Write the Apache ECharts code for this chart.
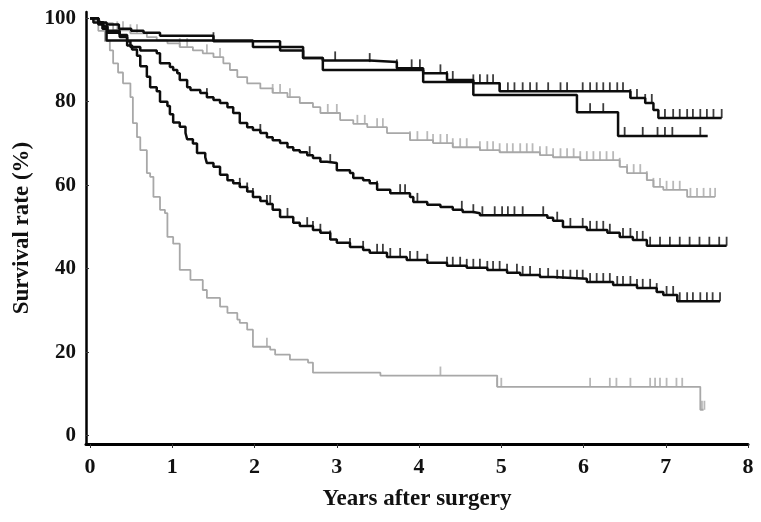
<!DOCTYPE html>
<html><head><meta charset="utf-8">
<script src="https://cdn.jsdelivr.net/npm/echarts@6/dist/echarts.min.js"></script>
<style>html,body{margin:0;padding:0;background:#fff}#c{width:761px;height:522px}</style>
</head><body><div id="c"></div>
<script>
// ---- tick labels ----
const xTickLabels = [0, 1, 2, 3, 4, 5, 6, 7, 8];
const yTickLabels = [0, 20, 40, 60, 80, 100];
const xTitle = 'Years after surgery';
const yTitle = 'Survival rate (%)';

// ---- Kaplan-Meier curves: [years, survival %] (step after each point) ----
const curveA = [[0,100],[0.1,99],[0.2,98.5],[0.35,97.5],[0.5,97],[0.65,96.5],[0.85,95.8],[1.5,94.5],[2.31,92.3],[2.59,90.5],[2.83,89.9],[3.4,89.5],[3.73,88],[4.05,86.8],[4.34,85.2],[4.66,84.4],[4.98,82.5],[6.57,80.9],[6.75,79.7],[6.85,78],[6.91,76.1],[7.68,76.1]];
const curveB = [[0,100],[0.04,99],[0.1,98.5],[0.15,97.5],[0.2,94.7],[1.98,93.1],[2.59,90.5],[2.83,87.6],[4.05,84.7],[4.66,81.6],[5.92,77.5],[6.42,71.8],[7.51,71.8]];
const curveC = [[0,100],[0.04,99.5],[0.12,98.8],[0.28,97.1],[0.49,96.4],[0.69,95.5],[0.81,94.7],[0.94,94],[1.09,93.1],[1.25,92.3],[1.37,91.6],[1.5,90.7],[1.62,89.2],[1.7,87.6],[1.79,85.9],[1.91,84.4],[2.07,83.2],[2.22,82.1],[2.4,81.1],[2.55,79.7],[2.71,78.7],[2.8,77.3],[3.04,75.6],[3.2,74.7],[3.37,73.9],[3.61,72.5],[3.89,70.8],[4.17,70.1],[4.41,69.1],[4.74,68.4],[4.98,67.9],[5.47,67.2],[5.63,66.7],[5.96,66],[6.44,64.4],[6.53,62.9],[6.77,61.2],[6.85,59.6],[6.97,58.9],[7.26,57.2],[7.6,57.2]];
const curveD = [[0,100],[0.1,99],[0.16,98],[0.21,97],[0.36,96],[0.45,94.5],[0.49,93.1],[0.61,92.3],[0.81,91.6],[0.85,89.2],[0.97,88.3],[1.01,87.6],[1.06,86.8],[1.09,85.2],[1.18,83.5],[1.22,82.8],[1.34,82.1],[1.42,81.1],[1.5,80.4],[1.58,79.7],[1.67,78.7],[1.74,77.3],[1.82,74.9],[1.91,73.9],[1.98,73.2],[2.07,72.5],[2.15,71.5],[2.22,70.8],[2.31,70.1],[2.4,69.1],[2.47,68.4],[2.55,67.9],[2.64,67.2],[2.71,66.5],[2.8,65.6],[2.88,65.3],[3,63.6],[3.16,62.9],[3.2,61.7],[3.32,61.2],[3.4,60.5],[3.49,58.9],[3.65,58.1],[3.89,57.2],[3.93,56],[4.1,55.3],[4.26,54.8],[4.41,54.1],[4.53,53.6],[4.66,53.3],[4.74,52.8],[5.56,52.2],[5.63,51.5],[5.75,50],[6.04,49.3],[6.29,48.6],[6.44,47.6],[6.6,46.9],[6.77,45.5],[7.74,45.5]];
const curveE = [[0,100],[0.1,99],[0.16,98],[0.21,96.5],[0.36,95.5],[0.45,93.5],[0.51,92.5],[0.57,91],[0.61,88.5],[0.69,86],[0.73,83.5],[0.81,82.5],[0.85,80],[0.94,79],[0.97,77],[1.01,75],[1.09,74],[1.16,72.5],[1.18,71],[1.25,70],[1.3,67.7],[1.4,66.7],[1.42,65.3],[1.5,64.4],[1.58,62.5],[1.67,61.2],[1.74,60.5],[1.82,59.6],[1.91,58.5],[1.98,57.2],[2.07,56.2],[2.15,55.5],[2.22,54.1],[2.31,52.4],[2.47,51],[2.55,50.2],[2.71,49.3],[2.8,48.6],[2.92,47],[3,46.2],[3.16,45.2],[3.32,44.5],[3.4,43.8],[3.61,42.8],[3.85,42.1],[4.1,41.4],[4.34,40.7],[4.58,40.2],[4.83,39.7],[5.07,39],[5.23,38.5],[5.47,38],[5.63,37.6],[6.04,36.8],[6.36,36.1],[6.65,35.4],[6.89,34.4],[6.97,33.7],[7.14,32.2],[7.66,32.2]];
const curveF = [[0,100],[0.04,99.5],[0.1,97],[0.18,94.5],[0.24,92.3],[0.28,89.2],[0.34,87],[0.4,84.4],[0.49,81.1],[0.52,74.9],[0.57,71.5],[0.61,68.4],[0.69,62.9],[0.73,62],[0.77,57.2],[0.85,54.1],[0.91,53.3],[0.94,47.6],[1.01,46],[1.09,39.7],[1.22,37.3],[1.37,34.9],[1.42,33],[1.58,30.9],[1.67,29.4],[1.79,27.8],[1.82,27],[1.91,25.4],[1.98,21.3],[2.19,20.6],[2.25,19.4],[2.43,18.2],[2.65,17.5],[2.71,15.1],[3.53,14.4],[4.95,11.7],[7.42,6.2],[7.46,6.2]];

// ---- censored times (tick marks) ----
const censA = [1.5,2.98,3.4,3.73,3.91,4.01,4.26,4.34,4.41,4.66,4.74,4.83,4.9,4.98,5.08,5.16,5.26,5.35,5.43,5.57,5.72,5.8,5.99,6.08,6.16,6.24,6.32,6.41,6.48,6.57,6.65,6.75,6.83,6.99,7.09,7.17,7.26,7.33,7.42,7.5,7.58,7.68];
const censB = [6.08,6.24,6.5,6.72,6.9,6.99,7.08,7.42];
const censC = [0.33,0.4,0.49,0.57,1.09,1.18,1.42,1.58,2.22,2.31,2.43,2.89,3.0,3.25,3.34,3.49,3.56,3.89,3.98,4.1,4.17,4.26,4.34,4.41,4.5,4.58,4.74,4.83,4.9,4.98,5.07,5.14,5.23,5.31,5.38,5.47,5.55,5.63,5.72,5.8,5.88,5.96,6.04,6.12,6.2,6.28,6.36,6.44,6.53,6.61,6.69,6.77,6.85,6.93,7.01,7.09,7.17,7.3,7.38,7.46,7.54,7.6];
const censD = [1.42,2.07,2.67,2.92,3.49,3.77,3.83,3.98,4.52,4.66,4.77,4.92,5.01,5.08,5.16,5.26,5.51,5.68,5.84,5.99,6.08,6.16,6.24,6.32,6.48,6.57,6.65,6.72,6.81,6.93,7.05,7.17,7.29,7.41,7.53,7.65,7.74];
const censE = [1.82,1.91,1.98,2.15,2.19,2.4,2.64,2.71,2.8,2.92,3.16,3.32,3.49,3.56,3.65,3.77,3.89,3.98,4.1,4.34,4.41,4.5,4.58,4.66,4.74,4.83,4.9,4.98,5.07,5.19,5.26,5.35,5.47,5.57,5.68,5.75,5.84,5.92,5.99,6.08,6.16,6.24,6.32,6.41,6.48,6.57,6.65,6.72,6.81,6.89,7.01,7.09,7.17,7.26,7.33,7.42,7.5,7.57,7.66];
const censF = [2.15,4.26,4.95,5.0,6.08,6.32,6.4,6.57,6.81,6.87,6.93,7.01,7.13,7.2,7.44,7.47];

function survAt(curve, t) {
  let v = curve[0][1];
  for (const p of curve) { if (p[0] <= t + 1e-9) v = p[1]; else break; }
  return v;
}

const BLACK = '#0d0d0d';
const GRAY = '#a8a8a8';
const FONT = '"Liberation Serif", "Times New Roman", serif';

function lineSeries(name, data, color, width, z) {
  return { name, type: 'line', step: 'end', data, showSymbol: false, symbol: 'none',
    lineStyle: { color, width }, z, silent: true };
}
function censorSeries(name, curve, times, color, z) {
  return { name, type: 'scatter', data: times.map(t => [t, survAt(curve, t)]),
    symbol: 'rect', symbolSize: [1.8, 9], symbolOffset: [0, -4.5],
    itemStyle: { color }, z, silent: true };
}

const chart = echarts.init(document.getElementById('c'), null, { renderer: 'canvas' });
chart.setOption({
  animation: false,
  backgroundColor: '#ffffff',
  grid: { left: 86, right: 13, top: 12, bottom: 78, containLabel: false },
  xAxis: {
    type: 'value', min: -0.05, max: 8,
    name: xTitle, nameLocation: 'middle', nameGap: 44,
    nameTextStyle: { fontFamily: FONT, fontWeight: 'bold', fontSize: 23, color: '#111' },
    axisLine: { show: true, onZero: false, lineStyle: { color: '#000', width: 3 } },
    axisTick: { show: true, customValues: xTickLabels, length: 4, lineStyle: { color: '#333', width: 1 } },
    axisLabel: { customValues: xTickLabels, margin: 12, fontFamily: FONT, fontWeight: 'bold', fontSize: 22, color: '#111' },
    splitLine: { show: false }
  },
  yAxis: {
    type: 'value', min: -2, max: 101.5,
    name: yTitle, nameLocation: 'middle', nameGap: 50, nameRotate: 90,
    nameTextStyle: { fontFamily: FONT, fontWeight: 'bold', fontSize: 23, color: '#111' },
    axisLine: { show: true, onZero: false, lineStyle: { color: '#000', width: 2.5 } },
    axisTick: { show: true, customValues: yTickLabels, inside: true, length: 3, lineStyle: { color: '#333', width: 1 } },
    axisLabel: { customValues: yTickLabels, margin: 10, fontFamily: FONT, fontWeight: 'bold', fontSize: 21, color: '#111' },
    splitLine: { show: false }
  },
  series: [
    lineSeries('F', curveF, GRAY, 1.8, 1),
    lineSeries('C', curveC, GRAY, 1.8, 1),
    censorSeries('Fc', curveF, censF, GRAY, 1),
    censorSeries('Cc', curveC, censC, GRAY, 1),
    lineSeries('E', curveE, BLACK, 2.5, 3),
    lineSeries('D', curveD, BLACK, 2.5, 3),
    lineSeries('B', curveB, BLACK, 2.5, 3),
    lineSeries('A', curveA, BLACK, 2.5, 3),
    censorSeries('Ec', curveE, censE, BLACK, 3),
    censorSeries('Dc', curveD, censD, BLACK, 3),
    censorSeries('Bc', curveB, censB, BLACK, 3),
    censorSeries('Ac', curveA, censA, BLACK, 3)
  ]
});
</script>
</body></html>
